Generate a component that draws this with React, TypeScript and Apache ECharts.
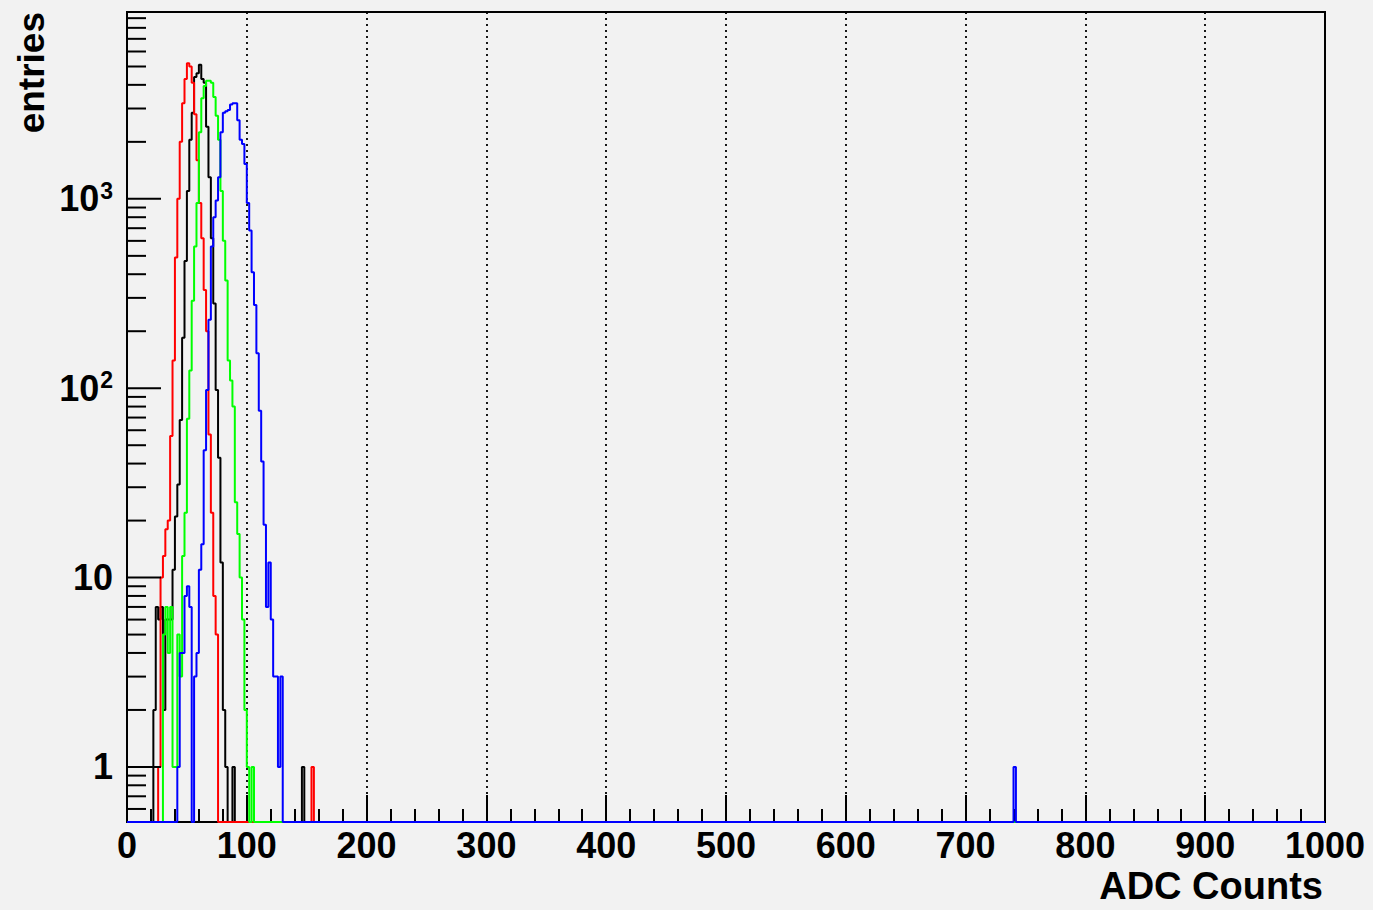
import React, { useEffect, useRef } from "react";
import * as echarts from "echarts";

// ---- data (bin width 2 ADC counts) ----
const BIN_WIDTH = 2;
const X_MIN = 0;
const X_MAX = 1000;
const Y_MIN = 0.512;
const Y_MAX = 9700;

const blackStart = 22;
const blackCounts = [2, 7, 6, 7, 2, 6, 6, 6, 11, 21, 31, 68, 185, 470, 1100, 2050, 2850, 4400, 4600, 5100, 4300, 4100, 2400, 1300, 620, 280, 98, 43, 12, 2, 1];
const blackSpikes = [[88, 1], [146, 1]];

const redStart = 26;
const redCounts = [1, 10, 13, 18, 20, 56, 140, 490, 1000, 2000, 3200, 4300, 5200, 5000, 4100, 2800, 1600, 950, 620, 330, 200, 57, 22, 8, 5];
const redSpikes = [[154, 1]];

const greenStart = 30;
const greenCounts = [5, 7, 4, 7, 1, 1, 5, 3, 13, 22, 69, 124, 290, 560, 950, 2250, 3400, 3950, 4200, 4200, 4100, 3450, 2750, 2050, 1100, 600, 370, 140, 110, 80, 25, 17, 10, 6, 2, 1, 0, 1];
const greenSpikes: number[][] = [];

const blueStart = 42;
const blueCounts = [1, 4, 4, 8, 9, 7, 0, 3, 4, 11, 15, 47, 98, 230, 560, 800, 980, 1300, 2250, 2850, 2900, 2950, 3150, 3200, 3200, 2600, 2050, 1950, 1530, 950, 680, 410, 275, 153, 76, 41, 19, 7, 12, 6, 3, 3, 1, 3];
const blueSpikes = [[740, 1]];

const xTickValues = [0, 100, 200, 300, 400, 500, 600, 700, 800, 900, 1000];
const yMajorTicks = [1, 10, 100, 1000];
const yMinorTicks = [
  0.6, 0.7, 0.8, 0.9,
  2, 3, 4, 5, 6, 7, 8, 9,
  20, 30, 40, 50, 60, 70, 80, 90,
  200, 300, 400, 500, 600, 700, 800, 900,
  2000, 3000, 4000, 5000, 6000, 7000, 8000, 9000,
];

const FONT = "Liberation Sans";

function buildSteps(start: number, counts: number[], spikes: number[][]) {
  const bins = new Map<number, number>();
  counts.forEach((c, i) => bins.set(start + i * BIN_WIDTH, c));
  spikes.forEach(([x, c]) => bins.set(x, c));
  const pts: number[][] = [];
  for (let e = X_MIN; e < X_MAX; e += BIN_WIDTH) {
    const c = bins.get(e) ?? 0;
    pts.push([e, c > 0 ? c : Y_MIN]);
  }
  pts.push([X_MAX, pts[pts.length - 1][1]]);
  return pts;
}

function histSeries(name: string, color: string, data: number[][]) {
  return {
    name,
    type: "line",
    step: "end",
    data,
    symbol: "none",
    showSymbol: false,
    lineStyle: { color, width: 2 },
    clip: true,
    silent: true,
  };
}

export default function App() {
  const ref = useRef<HTMLDivElement>(null);
  useEffect(() => {
    if (!ref.current) return;
    const chart = echarts.init(ref.current, undefined, { renderer: "svg" });
    const yTicks = [
      ...yMajorTicks.map((v) => [X_MIN, v, 1]),
      ...yMinorTicks.map((v) => [X_MIN, v, 0]),
    ];
    const option: any = {
      animation: false,
      backgroundColor: "#f2f2f2",
      grid: {
        left: 127,
        right: 48,
        top: 12,
        bottom: 88,
        show: true,
        borderColor: "#000",
        borderWidth: 2,
        backgroundColor: "transparent",
        containLabel: false,
        outerBoundsMode: "none",
      },
      xAxis: {
        type: "value",
        min: X_MIN,
        max: X_MAX,
        interval: 100,
        axisLine: { show: false },
        axisTick: { show: true, inside: true, length: 27, lineStyle: { color: "#000", width: 2 } },
        minorTick: { show: true, splitNumber: 5, length: 13, lineStyle: { color: "#000", width: 2 } },
        splitLine: { show: true, lineStyle: { color: "#000", width: 1.8, type: [2, 4] } },
        axisLabel: {
          show: true,
          margin: 5,
          color: "#000",
          fontFamily: FONT,
          fontWeight: "bold",
          fontSize: 36,
          showMinLabel: true,
          showMaxLabel: true,
          hideOverlap: false,
          formatter: (v: number) => (xTickValues.includes(Math.round(v)) ? String(Math.round(v)) : ""),
        },
      },
      yAxis: {
        type: "log",
        logBase: 10,
        min: Y_MIN,
        max: Y_MAX,
        axisLine: { show: false },
        axisTick: { show: false },
        splitLine: { show: false },
        minorTick: { show: false },
        axisLabel: {
          show: true,
          margin: 14,
          color: "#000",
          fontFamily: FONT,
          fontWeight: "bold",
          fontSize: 36,
          showMinLabel: false,
          showMaxLabel: false,
          formatter: (v: number) => {
            const e = Math.log10(v);
            const r = Math.round(e);
            if (Math.abs(e - r) > 1e-6 || !yMajorTicks.includes(Math.pow(10, r))) return "";
            if (r === 0) return "1";
            if (r === 1) return "10";
            return `{b|10}{s|${r}}`;
          },
          rich: {
            b: { fontFamily: FONT, fontWeight: "bold", fontSize: 36, color: "#000" },
            s: { fontFamily: FONT, fontWeight: "bold", fontSize: 23, color: "#000", padding: [0, 0, 16, 1] },
          },
        },
      },
      graphic: [
        {
          type: "text",
          x: 31,
          y: 12,
          rotation: Math.PI / 2,
          style: {
            text: "entries",
            fontFamily: FONT,
            fontWeight: "bold",
            fontSize: 37,
            fill: "#000",
            textAlign: "right",
            textVerticalAlign: "middle",
          },
        },
        {
          type: "text",
          x: 1323,
          y: 886,
          style: {
            text: "ADC Counts",
            fontFamily: FONT,
            fontWeight: "bold",
            fontSize: 38,
            fill: "#000",
            textAlign: "right",
            textVerticalAlign: "middle",
          },
        },
      ],
      series: [
        histSeries("black", "#000000", buildSteps(blackStart, blackCounts, blackSpikes)),
        histSeries("red", "#ff0000", buildSteps(redStart, redCounts, redSpikes)),
        histSeries("green", "#00ff00", buildSteps(greenStart, greenCounts, greenSpikes)),
        histSeries("blue", "#0000ff", buildSteps(blueStart, blueCounts, blueSpikes)),
        {
          type: "custom",
          data: yTicks,
          encode: { x: 0, y: 1 },
          silent: true,
          clip: false,
          z: 5,
          renderItem: (_p: any, api: any) => {
            const pt = api.coord([api.value(0), api.value(1)]);
            const len = api.value(2) === 1 ? 34 : 19;
            return {
              type: "line",
              shape: { x1: pt[0], y1: pt[1], x2: pt[0] + len, y2: pt[1] },
              style: { stroke: "#000", lineWidth: 2 },
            };
          },
        },
      ],
    };
    chart.setOption(option);
    return () => chart.dispose();
  }, []);
  return (
    <div
      ref={ref}
      style={{ position: "absolute", left: 0, top: 0, width: 1373, height: 910, background: "#f2f2f2" }}
    />
  );
}
